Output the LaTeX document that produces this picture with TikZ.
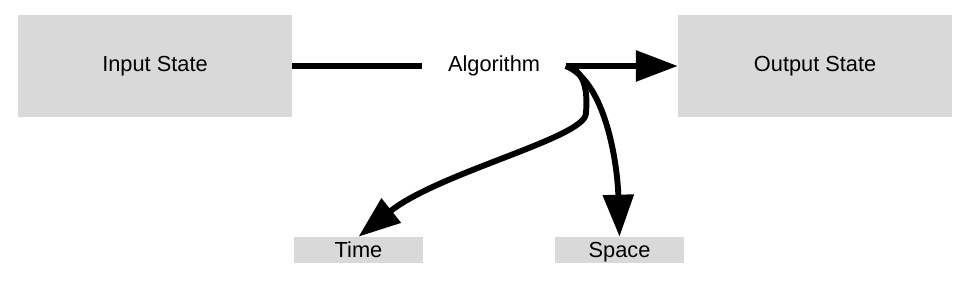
\documentclass[tikz,border=0pt]{standalone}
\usepackage{fontspec}
\setmainfont{Liberation Sans}
\usetikzlibrary{arrows.meta, positioning}
\definecolor{boxgray}{RGB}{217,217,217}

\begin{document}
\begin{tikzpicture}[
    every node/.style={font=\fontsize{15.5}{18}\selectfont},
    % Box styles
    statebox/.style={
      rectangle, draw=none, fill=boxgray,
      minimum width=6.85cm, minimum height=2.55cm
    },
    costbox/.style={
      rectangle, draw=none, fill=boxgray,
      minimum width=3.225cm, minimum height=0.65cm, inner sep=0pt,
      text height=11pt, text depth=0pt
    },
    algobox/.style={
      rectangle, draw=none,
      minimum width=3.575cm, inner sep=0pt
    },
    % Arrow styles
    flow/.style={line width=4.2pt},
    arr/.style={-{Triangle[length=1.05cm, width=0.75cm]}, line width=4.2pt}
  ]
  \useasboundingbox (0,0) rectangle (24.175,7.225);

  % ============ States ============
  \node[statebox] (input) at (3.875,5.575) {Input State};
  \node[algobox, right=3.25cm of input] (algo) {Algorithm};
  \node[statebox, right=2.8cm of algo] (output) {Output State};

  % ============ Costs ============
  \node[costbox] (time) at (8.9625,0.975) {Time};
  \node[costbox] (space) at (15.4875,0.975) {Space};

  % ============ Arrows ============
  \draw[flow] (input) -- (algo);
  \draw[arr] (algo.east) -- (output.west);
  \draw[arr] (algo.east) .. controls +(0.5,-0.1) and +(0.05,0.5) .. ++(0.5,-1.2)
    .. controls +(-0.05,-0.6) and +(2.0,1.6) .. (time.north);
  \draw[arr] (algo.east) .. controls +(1.0,-0.4) and +(-0.05,1.8) .. (space.north);

\end{tikzpicture}
\end{document}
